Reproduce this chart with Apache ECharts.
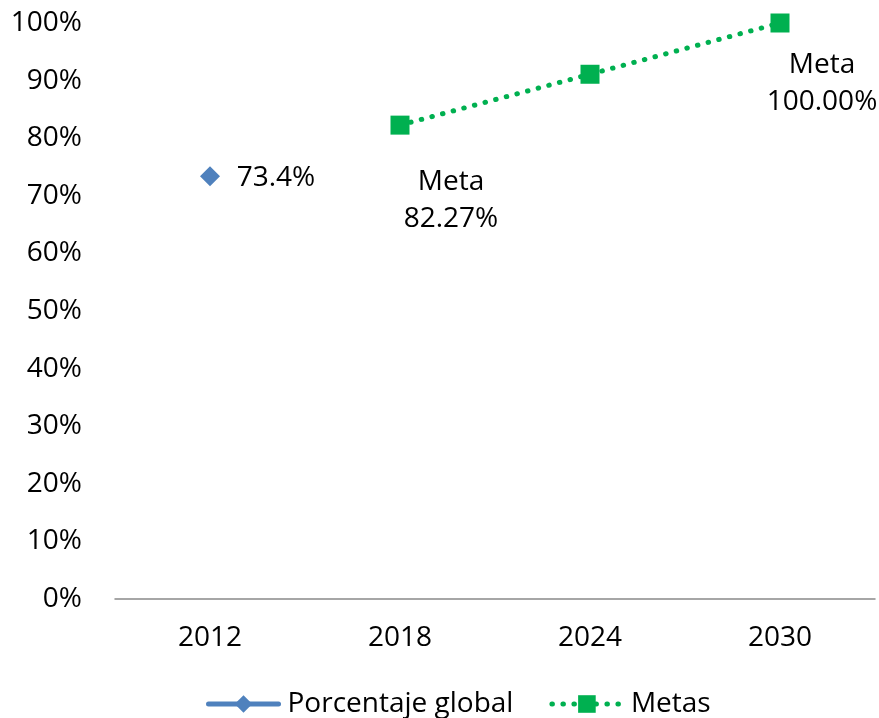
<!DOCTYPE html>
<html>
<head>
<meta charset="utf-8">
<script src="https://cdn.jsdelivr.net/npm/echarts@6/dist/echarts.min.js"></script>
<style>
  html, body { margin: 0; padding: 0; background: #fff; }
  #chart { width: 879px; height: 718px; }
</style>
</head>
<body>
<div id="chart"></div>
<script>
// Years on the category axis
const years = ['2012', '2018', '2024', '2030'];
// Measured global percentage (only 2012 available)
const porcentajeGlobal = [73.4, null, null, null];
// Target path
const metas = [null, 82.27, 91.1, 100];
// Which target points carry a "Meta" label
const metaLabelShown = [false, true, false, true];

const FONT = '"Open Sans", sans-serif';
const FS = 28;
const BLUE = '#4F81BD';
const GREEN = '#00B050';
const DOTS = [0.5, 10.5];

const globalData = porcentajeGlobal.map(v => v === null ? '-' : {
  value: v,
  label: {
    show: true,
    position: 'inside',
    offset: [66, 2],
    formatter: p => p.value.toFixed(1) + '%',
    fontFamily: FONT, fontSize: FS, color: '#000'
  }
});

const labelOffsets = { 1: [51, 75], 3: [42, 61] };
const metasData = metas.map((v, i) => {
  if (v === null) return '-';
  if (!metaLabelShown[i]) return v;
  return {
    value: v,
    label: {
      show: true,
      position: 'inside',
      offset: labelOffsets[i],
      align: 'center',
      lineHeight: 37,
      formatter: p => 'Meta\n' + p.value.toFixed(2) + '%',
      fontFamily: FONT, fontSize: FS, color: '#000'
    }
  };
});

const chart = echarts.init(document.getElementById('chart'), null, { renderer: 'canvas' });
chart.setOption({
  animation: false,
  backgroundColor: '#fff',
  grid: { left: 115, right: 4, top: 23, bottom: 119, containLabel: false },
  xAxis: {
    type: 'category',
    data: years,
    boundaryGap: true,
    axisLine: { show: true, lineStyle: { color: '#898989', width: 1.5 } },
    axisTick: { show: false },
    axisLabel: { fontFamily: FONT, fontSize: FS, color: '#000', margin: 25 }
  },
  yAxis: {
    type: 'value',
    min: 0, max: 100, interval: 10,
    axisLine: { show: false },
    axisTick: { show: false },
    splitLine: { show: false },
    axisLabel: { formatter: '{value}%', fontFamily: FONT, fontSize: FS, color: '#000', margin: 33 }
  },
  legend: {
    bottom: -5,
    left: 201,
    itemWidth: 70,
    itemHeight: 22,
    itemGap: 36,
    textStyle: { fontFamily: FONT, fontSize: FS, color: '#000', padding: [0, 0, 0, 4] },
    data: [
      {
        name: 'Porcentaje global',
        itemStyle: { color: BLUE },
        lineStyle: { color: BLUE, width: 5, cap: 'round' }
      },
      {
        name: 'Metas',
        itemStyle: { color: GREEN },
        lineStyle: { color: GREEN, width: 5, type: DOTS, cap: 'round' }
      }
    ]
  },
  series: [
    {
      name: 'Porcentaje global',
      type: 'line',
      data: globalData,
      symbol: 'diamond',
      symbolSize: 20,
      itemStyle: { color: BLUE },
      lineStyle: { color: BLUE, width: 5 },
      connectNulls: false
    },
    {
      name: 'Metas',
      type: 'line',
      data: metasData,
      symbol: 'rect',
      symbolSize: 19,
      itemStyle: { color: GREEN },
      lineStyle: { color: GREEN, width: 5, type: DOTS, cap: 'round' },
      connectNulls: false
    }
  ]
});
</script>
</body>
</html>
